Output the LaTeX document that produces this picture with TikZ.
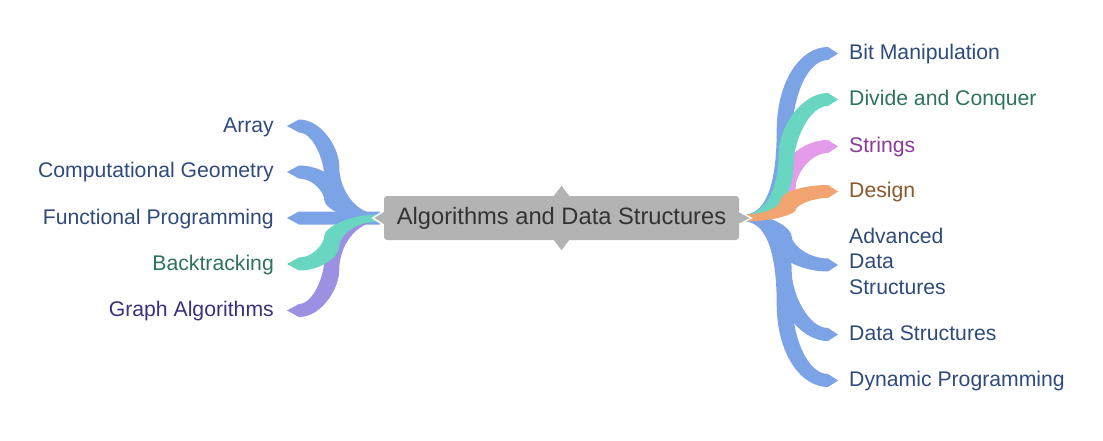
\documentclass[tikz,border=0pt]{standalone}
\usepackage{fontspec}
\setmainfont{Liberation Sans}
\usetikzlibrary{calc,backgrounds}
\definecolor{bandblue}{HTML}{7BA3E6}
\definecolor{bandteal}{HTML}{69D6C2}
\definecolor{bandpink}{HTML}{E49BE9}
\definecolor{bandorange}{HTML}{F1A46F}
\definecolor{bandpurple}{HTML}{9C90E2}
\definecolor{rootgray}{HTML}{B3B3B3}
\definecolor{roottext}{HTML}{333333}
\definecolor{lblue}{HTML}{2F4B7C}
\definecolor{lgreen}{HTML}{2E7260}
\definecolor{lpink}{HTML}{8B3A9B}
\definecolor{lbrown}{HTML}{8A5A2B}
\definecolor{lpurple}{HTML}{3D2F7C}
\def\hr{3.5}\def\hl{6.5}\def\hw{7.5}
% #1 colour, #2 root, #3 leaf, #4 offset of vertical trunk, #5 tip length, #6 #7 corner sizes
\newcommand\band[7]{%
  \fill[#1] let \p1=#2, \p2=#3,
    \n{s}={sign((\y2)-(\y1))}, \n{d}={sign((\x2)-(\x1))},
    \n{dy}={abs((\y2)-(\y1))}, \n{u2}={abs((\x2)-(\x1))},
    \n{qa}={min(#6,0.3*\n{dy})}, \n{qb}={min(#7,0.3*\n{dy})},
    \n{uu}={#4-\n{s}*\hw}, \n{ul}={#4+\n{s}*\hw},
    \n{ym}={((\y1)+(\y2))/2} in
  (\x1,{\y1+\hr*1pt})
  .. controls ({\x1+\n{d}*0.6*\n{uu}*1pt},{\y1+\hr*1pt})
     and ({\x1+\n{d}*\n{uu}*1pt},{\y1+(\hr+\n{s}*\n{qa})*1pt})
  .. ({\x1+\n{d}*\n{uu}*1pt},{(\n{ym}+(\hr+\hl)/2)*1pt})
  .. controls ({\x1+\n{d}*\n{uu}*1pt},{\y2+(\hl-\n{s}*\n{qb})*1pt})
     and ({\x1+\n{d}*(\n{uu}+0.45*(\n{u2}-\n{uu}))*1pt},{\y2+\hl*1pt})
  .. (\x2,{\y2+\hl*1pt})
  -- ({\x2+\n{d}*#5*1pt},\y2)
  -- (\x2,{\y2-\hl*1pt})
  .. controls ({\x1+\n{d}*(\n{ul}+0.45*(\n{u2}-\n{ul}))*1pt},{\y2-\hl*1pt})
     and ({\x1+\n{d}*\n{ul}*1pt},{\y2-(\hl+\n{s}*\n{qb})*1pt})
  .. ({\x1+\n{d}*\n{ul}*1pt},{(\n{ym}-(\hr+\hl)/2)*1pt})
  .. controls ({\x1+\n{d}*\n{ul}*1pt},{\y1+(-\hr+\n{s}*\n{qa})*1pt})
     and ({\x1+\n{d}*0.6*\n{ul}*1pt},{\y1-\hr*1pt})
  .. (\x1,{\y1-\hr*1pt}) -- cycle;}
\begin{document}
\begin{tikzpicture}[x=1pt,y=-1pt,
  leafbase/.style={inner sep=0pt, font=\fontsize{21.2}{25.5}\selectfont},
  leaf/.style={leafbase, text height=16pt, text depth=4pt},
  leafL/.style={leaf, anchor=east},
  leafR/.style={leaf, anchor=west},
  rootbox/.style={fill=rootgray, rounded corners=3pt, minimum width=355pt, minimum height=44pt,
    inner sep=0pt, text=roottext, font=\fontsize{23.7}{28}\selectfont},
  tabfill/.style={fill=rootgray},
  tabedge/.style={draw=white, line width=1.5pt}]
\useasboundingbox (0,0) rectangle (1103,441);

\node[rootbox] (root) at (561.5,218) {Algorithms and Data Structures};
\coordinate (rL) at ($(root.west)+(-4,0)$);
\coordinate (rR) at ($(root.east)+(5,0)$);

% left leaves
\node[leafL, text=lblue] (array) at (274,126) {Array};
\node[leafL, text=lblue] (compgeo) at (274,172) {Computational Geometry};
\node[leafL, text=lblue] (funcprog) at (274,218) {Functional Programming};
\node[leafL, text=lgreen] (backtrack) at (274,264) {Backtracking};
\node[leafL, text=lpurple] (graph) at (274,310.5) {Graph Algorithms};

% right leaves
\node[leafR, text=lblue] (bit) at (849,53.5) {Bit Manipulation};
\node[leafR, text=lgreen] (divide) at (849,99.5) {Divide and Conquer};
\node[leafR, text=lpink] (strings) at (849,146.5) {Strings};
\node[leafR, text=lbrown] (design) at (849,191.5) {Design};
\node[leafbase, anchor=north west, align=left, text=lblue] (advds) at (849,227.5) {Advanced\\Data\\Structures};
\node[leafR, text=lblue] (ds) at (849,334.5) {Data Structures};
\node[leafR, text=lblue] (dynprog) at (849,380.5) {Dynamic Programming};

\begin{pgfonlayer}{background}
\fill[white] (0,0) rectangle (1103,441);
% right side
\band{bandblue}{(rR)}{($(bit.west)+(-21,0)$)}{40}{10}{25}{35}
\band{bandblue}{(rR)}{($(advds.west)+(-21,4)$)}{40}{10}{25}{35}
\band{bandblue}{(rR)}{($(ds.west)+(-21,0)$)}{40}{10}{25}{35}
\band{bandblue}{(rR)}{($(dynprog.west)+(-21,0)$)}{40}{10}{25}{35}
\band{bandpink}{(rR)}{($(strings.west)+(-21,0)$)}{44}{10}{25}{35}
\band{bandteal}{(rR)}{($(divide.west)+(-21,0)$)}{42}{10}{25}{35}
\band{bandorange}{(rR)}{($(design.west)+(-21,0)$)}{44}{10}{25}{35}
% left side
\band{bandblue}{(rL)}{($(array.east)+(25,0)$)}{48}{12}{25}{35}
\band{bandblue}{(rL)}{($(compgeo.east)+(25,0)$)}{48}{12}{25}{35}
{\def\hr{6.5}\band{bandblue}{(rL)}{($(funcprog.east)+(25,0)$)}{48}{12}{25}{35}}
\band{bandpurple}{(rL)}{($(graph.east)+(25,0)$)}{48}{12}{25}{35}
\band{bandteal}{(rL)}{($(backtrack.east)+(25,0)$)}{48}{12}{25}{35}
\end{pgfonlayer}

% tabs of the central node
\fill[tabfill] ($(root.west)+(0,-7)$) -- ($(root.west)+(-11,0)$) -- ($(root.west)+(0,7)$) -- cycle;
\draw[tabedge] ($(root.west)+(0,-7)$) -- ($(root.west)+(-11,0)$) -- ($(root.west)+(0,7)$);
\fill[tabfill] ($(root.east)+(0,-6.5)$) -- ($(root.east)+(12,0)$) -- ($(root.east)+(0,6.5)$) -- cycle;
\draw[tabedge] ($(root.east)+(0,-6.5)$) -- ($(root.east)+(12,0)$) -- ($(root.east)+(0,6.5)$);
\fill[tabfill] ($(root.north)+(-8,0.5)$) -- ($(root.north)+(0,-10)$) -- ($(root.north)+(8,0.5)$) -- cycle;
\fill[tabfill] ($(root.south)+(-8,-0.5)$) -- ($(root.south)+(0,10)$) -- ($(root.south)+(8,-0.5)$) -- cycle;
\end{tikzpicture}
\end{document}
